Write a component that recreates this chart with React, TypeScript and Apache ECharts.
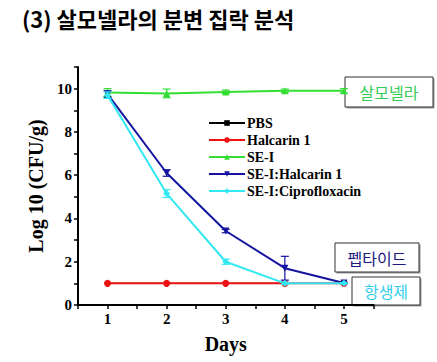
import React, { useEffect, useRef } from "react";
import * as echarts from "echarts";

const days = [1, 2, 3, 4, 5];
const seriesNames = ["PBS", "Halcarin 1", "SE-I", "SE-I:Halcarin 1", "SE-I:Ciprofloxacin"];
const pbs = [1, 1, 1, 1, 1];
const halcarin = [1, 1, 1, 1, 1];
const seI = [9.82, 9.78, 9.85, 9.9, 9.9];
const seIHalcarin = [9.75, 6.1, 3.42, 1.7, 1.02];
const seICipro = [9.7, 5.15, 2.0, 1.0, 1.0];
const errPbs = [0, 0, 0, 0, 0];
const errHalcarin = [0, 0, 0, 0, 0];
const errSeI = [0.18, 0.2, 0.08, 0.08, 0.1];
const errSeIHalcarin = [0.15, 0.15, 0.08, 0.55, 0.03];
const errSeICipro = [0.15, 0.18, 0.12, 0.05, 0.03];
const annotations = ["살모넬라", "펩타이드", "항생제"];
const title = "(3) 살모넬라의 분변 집락 분석";

const colors = ["#000000", "#ee1111", "#33dd33", "#1414a0", "#33e8f2"];
const symbols = ["rect", "circle", "triangle", "triangle", "diamond"];
const rotations = [0, 0, 0, 180, 0];
const values = [pbs, halcarin, seI, seIHalcarin, seICipro];
const errors = [errPbs, errHalcarin, errSeI, errSeIHalcarin, errSeICipro];

const serif = "'Liberation Serif', 'Times New Roman', serif";
const kr = "'Noto Sans CJK KR', sans-serif";

export default function App() {
  const ref = useRef<HTMLDivElement>(null);
  useEffect(() => {
    if (!ref.current) return;
    const chart = echarts.init(ref.current, null, { renderer: "svg" });
    const lineSeries = seriesNames.map((name, i) => ({
      name,
      type: "line",
      data: days.map((d, j) => [d, values[i][j]]),
      symbol: symbols[i],
      symbolRotate: rotations[i],
      symbolSize: i === 0 ? 4 : 7,
      itemStyle: { color: colors[i] },
      lineStyle: { color: colors[i], width: i === 0 ? 1 : 2 },
      z: 3 + i,
    }));
    const errSeries = seriesNames.map((name, i) => ({
      name: name + "-err",
      type: "custom",
      data: days
        .map((d, j) => [d, values[i][j] - errors[i][j], values[i][j] + errors[i][j]])
        .filter((_, j) => errors[i][j] > 0),
      renderItem: (params: any, api: any) => {
        const x = api.value(0);
        const p1 = api.coord([x, api.value(1)]);
        const p2 = api.coord([x, api.value(2)]);
        const w = 4;
        const st = { stroke: colors[i], lineWidth: 1.2 };
        return {
          type: "group",
          children: [
            { type: "line", shape: { x1: p1[0], y1: p1[1], x2: p2[0], y2: p2[1] }, style: st },
            { type: "line", shape: { x1: p1[0] - w, y1: p1[1], x2: p1[0] + w, y2: p1[1] }, style: st },
            { type: "line", shape: { x1: p2[0] - w, y1: p2[1], x2: p2[0] + w, y2: p2[1] }, style: st },
          ],
        };
      },
      z: 3 + i,
      silent: true,
    }));
    const box = (x: number, y: number, w: number, h: number, text: string, color: string) => ({
      type: "group",
      children: [
        { type: "rect", shape: { x: x + 1.5, y: y + 1.5, width: w, height: h }, style: { fill: "#999" } },
        { type: "rect", shape: { x, y, width: w, height: h }, style: { fill: "#fff", stroke: "#333", lineWidth: 1 } },
        {
          type: "text",
          x: x + w / 2,
          y: y + h / 2,
          style: { text, fill: color, font: `16px ${kr}`, align: "center", verticalAlign: "middle" },
        },
      ],
    });
    chart.setOption({
      animation: false,
      grid: { left: 78, right: 63.5, top: 67, bottom: 57, containLabel: false },
      xAxis: {
        type: "value",
        min: 0.5,
        max: 5.5,
        interval: 0.5,
        name: "Days",
        nameLocation: "middle",
        nameGap: 29,
        nameTextStyle: { fontFamily: serif, fontWeight: "bold", fontSize: 20, color: "#000" },
        axisLine: { lineStyle: { color: "#000", width: 2 } },
        axisTick: { inside: false, length: 4, lineStyle: { color: "#000", width: 1.5 } },
        axisLabel: {
          formatter: (v: number) => (Number.isInteger(v) ? String(v) : ""),
          fontFamily: serif,
          fontWeight: "bold",
          fontSize: 15,
          color: "#000",
          margin: 6,
        },
        splitLine: { show: false },
      },
      yAxis: {
        type: "value",
        min: 0,
        max: 11,
        interval: 1,
        name: "Log 10 (CFU/g)",
        nameLocation: "middle",
        nameRotate: 90,
        nameGap: 24,
        nameTextStyle: { fontFamily: serif, fontWeight: "bold", fontSize: 20, color: "#000" },
        axisLine: { show: true, lineStyle: { color: "#000", width: 2 } },
        axisTick: { show: true, inside: false, length: 4, lineStyle: { color: "#000", width: 1.5 } },
        axisLabel: {
          formatter: (v: number) => (v % 2 === 0 && v <= 10 ? String(v) : ""),
          fontFamily: serif,
          fontWeight: "bold",
          fontSize: 15,
          color: "#000",
          margin: 6,
        },
        splitLine: { show: false },
      },
      legend: {
        data: seriesNames,
        orient: "vertical",
        left: 203,
        top: 111,
        itemWidth: 36,
        itemHeight: 7,
        itemGap: 3,
        textStyle: { fontFamily: serif, fontWeight: "bold", fontSize: 14, color: "#000", padding: [0, 0, 0, -3] },
      },
      graphic: [
        {
          type: "text",
          x: 22,
          y: 18,
          style: { text: title, font: `bold 22px ${kr}`, fill: "#000", align: "left", verticalAlign: "middle" },
        },
        box(345, 77, 88, 30, annotations[0], "#33cc55"),
        box(335, 243, 84, 29, annotations[1], "#1a1a80"),
        box(352, 277, 68, 28, annotations[2], "#33ccee"),
      ],
      series: [...lineSeries, ...errSeries],
    });
    return () => chart.dispose();
  }, []);
  return <div ref={ref} style={{ width: 437, height: 362, position: "absolute", left: 0, top: 0, background: "#fff" }} />;
}
